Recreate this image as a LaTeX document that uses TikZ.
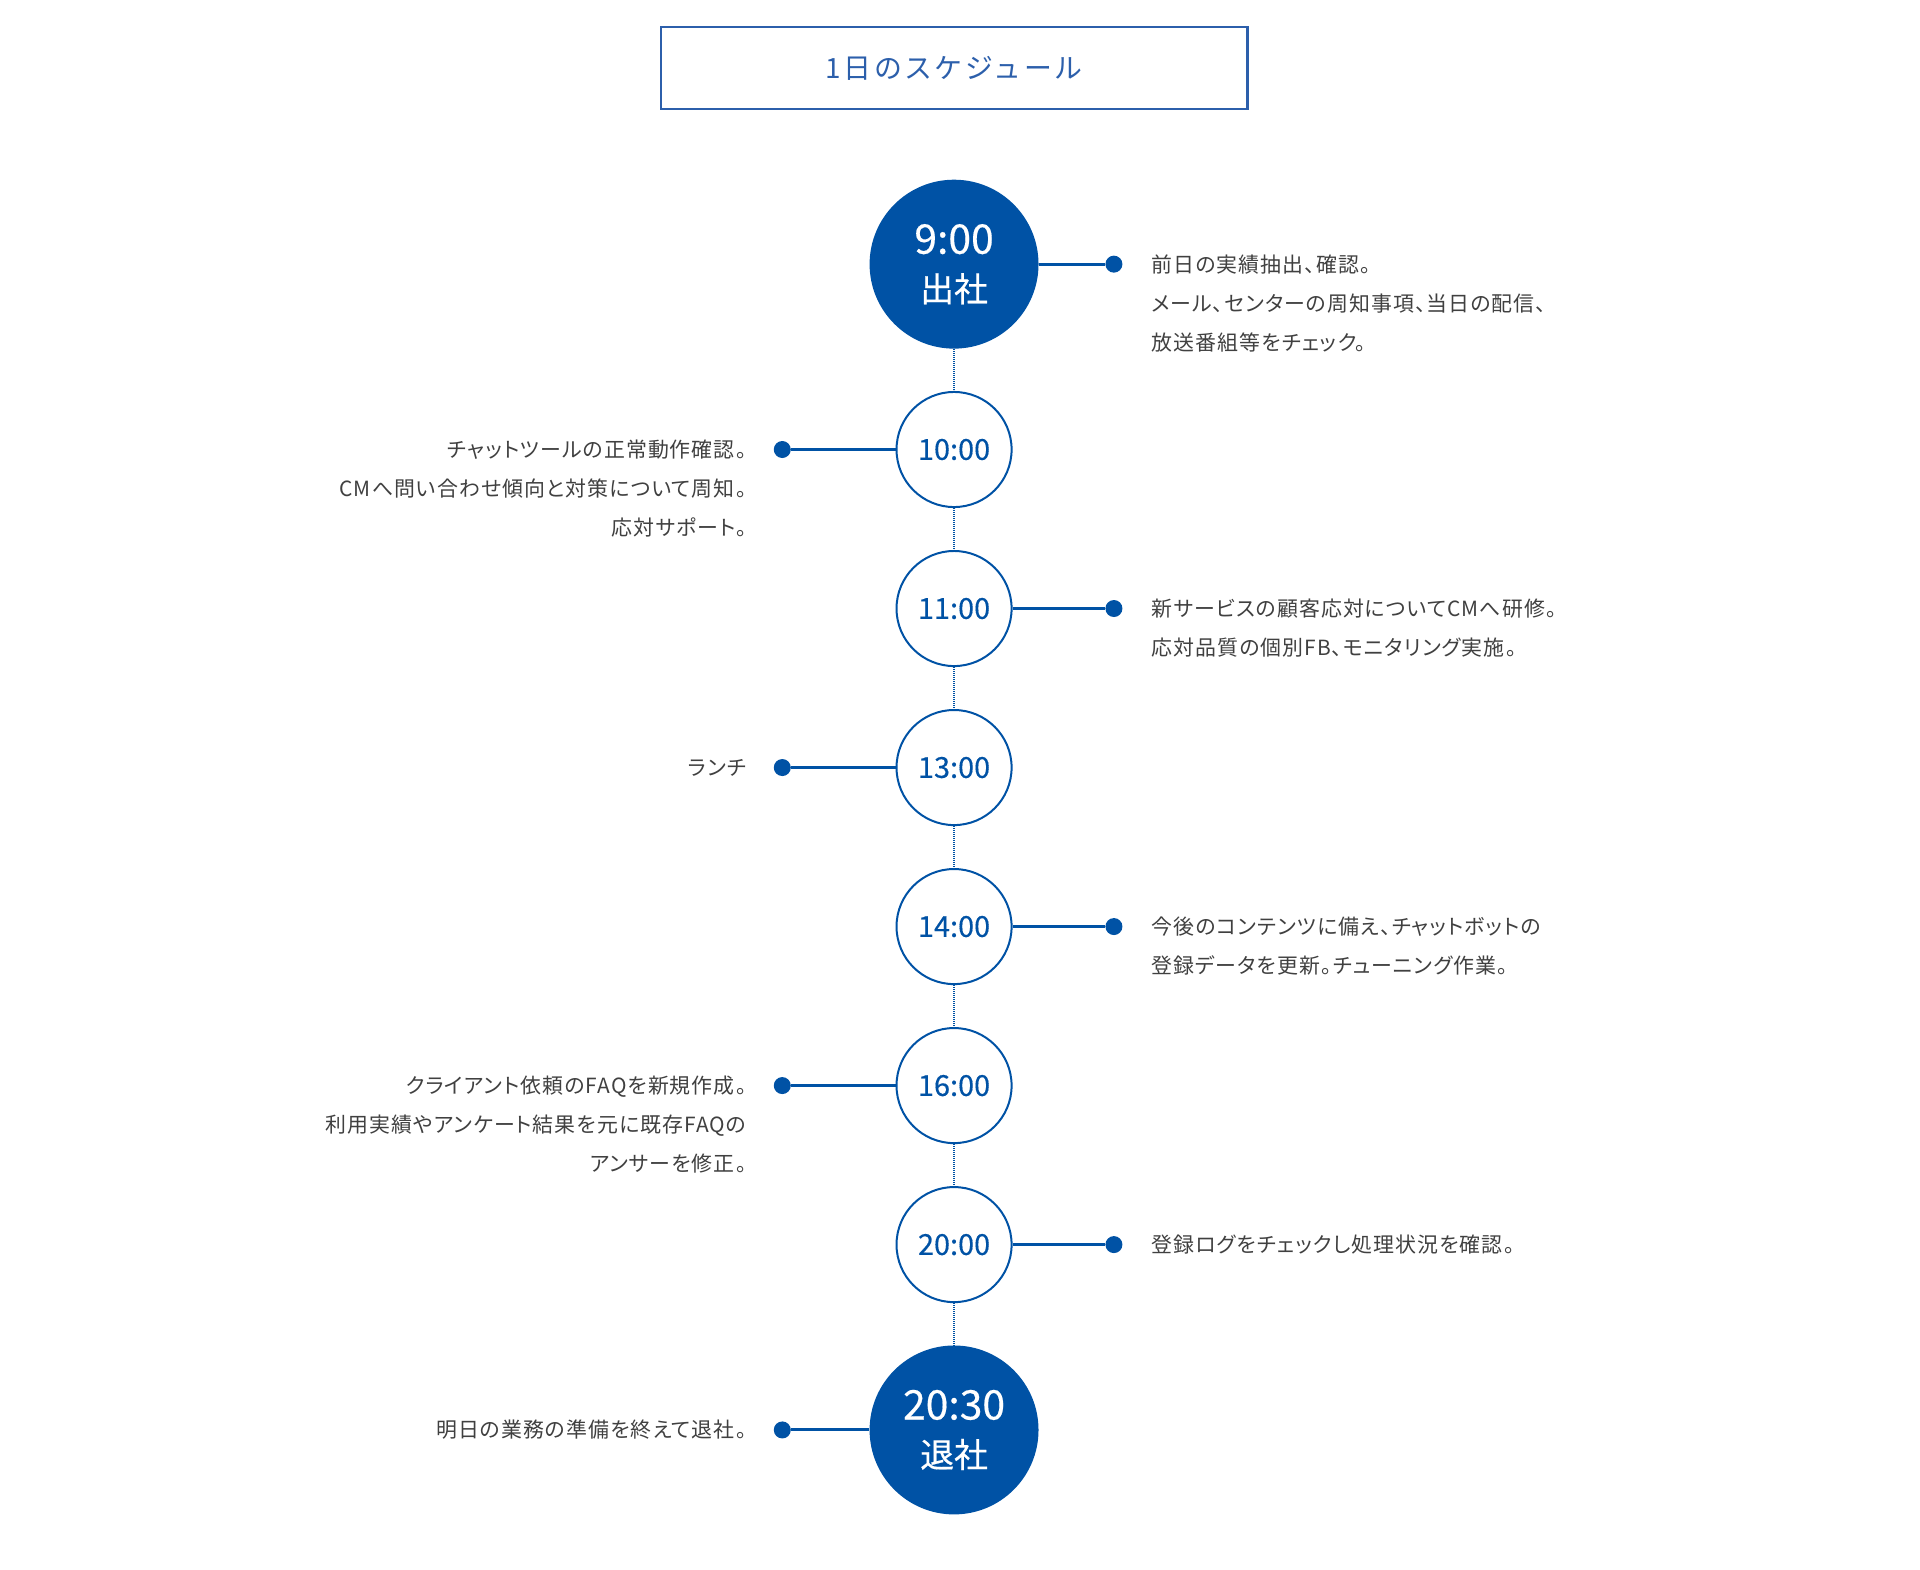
\documentclass[tikz,border=0pt]{standalone}
\usepackage{fontspec}
\setmainfont{Noto Sans CJK JP}
\newfontfamily\notefont[RawFeature=+palt, LetterSpace=5]{Noto Sans CJK JP}
\newfontfamily\titlefont[LetterSpace=9]{Noto Sans CJK JP}
\newfontfamily\timefont[FakeBold=0.4]{Noto Sans CJK JP}
\usetikzlibrary{positioning}

\definecolor{tlblue}{HTML}{0052A5}
\definecolor{tlframe}{HTML}{2C5FAB}
\definecolor{notegray}{HTML}{404040}

\begin{document}
\begin{tikzpicture}[
    node distance=7.4mm,
    titulo/.style={draw=tlframe, line width=1.2pt, minimum width=103.5mm,
                   minimum height=14.5mm, text=tlframe,
                   font=\titlefont\fontsize{14}{16}\selectfont},
    hora/.style={circle, draw=tlblue, line width=1pt, fill=white, minimum size=20.3mm,
                 inner sep=0pt, text=tlblue, font=\timefont\fontsize{14.5}{16}\selectfont},
    horagrande/.style={circle, fill=tlblue, minimum size=29.8mm, inner sep=0pt,
                       align=center, text=white, font=\timefont\fontsize{20.5}{24}\selectfont},
    punto/.style={circle, fill=tlblue, minimum size=3mm, inner sep=0pt},
    nota/.style={inner sep=0pt, text=notegray, font=\notefont\fontsize{10.5}{19.6}\selectfont},
    enlace/.style={draw=tlblue, line width=1.5pt},
    eje/.style={draw=tlblue, line width=1pt, dash pattern=on 0.5pt off 0.5pt}
]
\useasboundingbox (0,0) rectangle (338.7mm,-276.9mm);

\node[titulo] (titulo) at (168.3mm,-12mm) {1日のスケジュール};

% columna de horas
\node[horagrande] (h9) at (168.3mm,-46.6mm) {9:00\\{\fontsize{17}{20}\selectfont 出社}};
\node[hora, below=of h9]  (h10) {10:00};
\node[hora, below=of h10] (h11) {11:00};
\node[hora, below=of h11] (h13) {13:00};
\node[hora, below=of h13] (h14) {14:00};
\node[hora, below=of h14] (h16) {16:00};
\node[hora, below=of h16] (h20) {20:00};
\node[horagrande, below=of h20] (h2030) {20:30\\{\fontsize{17}{20}\selectfont 退社}};

\draw[eje] (h9) -- (h10) (h10) -- (h11) (h11) -- (h13) (h13) -- (h14)
           (h14) -- (h16) (h16) -- (h20) (h20) -- (h2030);

% puntos a derecha e izquierda
\node[punto] (p9)    at ([xshift=28.2mm]h9.center)     {};
\node[punto] (p10)   at ([xshift=-30.3mm]h10.center)   {};
\node[punto] (p11)   at ([xshift=28.2mm]h11.center)    {};
\node[punto] (p13)   at ([xshift=-30.3mm]h13.center)   {};
\node[punto] (p14)   at ([xshift=28.2mm]h14.center)    {};
\node[punto] (p16)   at ([xshift=-30.3mm]h16.center)   {};
\node[punto] (p20)   at ([xshift=28.2mm]h20.center)    {};
\node[punto] (p2030) at ([xshift=-30.3mm]h2030.center) {};

\draw[enlace] (h9) -- (p9);
\draw[enlace] (p10) -- (h10);
\draw[enlace] (h11) -- (p11);
\draw[enlace] (p13) -- (h13);
\draw[enlace] (h14) -- (p14);
\draw[enlace] (p16) -- (h16);
\draw[enlace] (h20) -- (p20);
\draw[enlace] (p2030) -- (h2030);

% textos (la base del nodo es la ultima linea: se baja 19.6pt por linea extra)
\node[nota, align=left, anchor=base west] (n9) at ([shift={(5mm,-39.2pt-1.4mm)}]p9.east)
    {前日の実績抽出、確認。\\メール、センターの周知事項、当日の配信、\\放送番組等をチェック。};
\node[nota, align=right, anchor=base east] (n10) at ([shift={(-4.7mm,-39.2pt-1.4mm)}]p10.west)
    {チャットツールの正常動作確認。\\CMへ問い合わせ傾向と対策について周知。\\応対サポート。};
\node[nota, align=left, anchor=base west] (n11) at ([shift={(5mm,-19.6pt-1.4mm)}]p11.east)
    {新サービスの顧客応対についてCMへ研修。\\応対品質の個別FB、モニタリング実施。};
\node[nota, align=right, anchor=base east] (n13) at ([shift={(-4.7mm,-1.4mm)}]p13.west)
    {ランチ};
\node[nota, align=left, anchor=base west] (n14) at ([shift={(5mm,-19.6pt-1.4mm)}]p14.east)
    {今後のコンテンツに備え、チャットボットの\\登録データを更新。チューニング作業。};
\node[nota, align=right, anchor=base east] (n16) at ([shift={(-4.7mm,-39.2pt-1.4mm)}]p16.west)
    {クライアント依頼のFAQを新規作成。\\利用実績やアンケート結果を元に既存FAQの\\アンサーを修正。};
\node[nota, align=left, anchor=base west] (n20) at ([shift={(5mm,-1.4mm)}]p20.east)
    {登録ログをチェックし処理状況を確認。};
\node[nota, align=right, anchor=base east] (n2030) at ([shift={(-4.7mm,-1.4mm)}]p2030.west)
    {明日の業務の準備を終えて退社。};

\end{tikzpicture}
\end{document}
